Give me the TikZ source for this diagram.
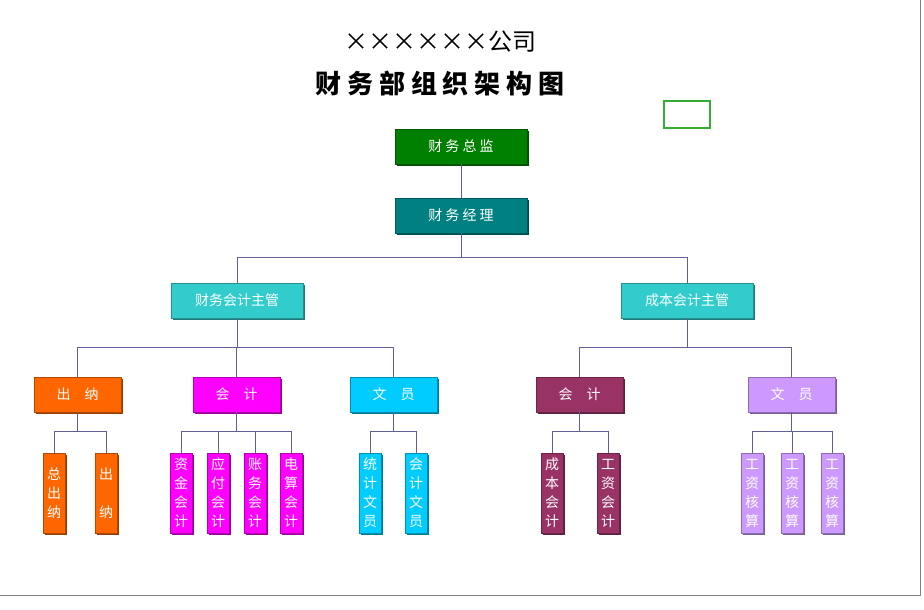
\documentclass[tikz,border=0pt]{standalone}
\usepackage{fontspec}
\setmainfont{Noto Sans CJK SC}
\usetikzlibrary{shadows}
\definecolor{cA}{RGB}{0,128,0}
\definecolor{cB}{RGB}{0,128,128}
\definecolor{cC}{RGB}{51,204,204}
\definecolor{cO}{RGB}{255,102,0}
\definecolor{cM}{RGB}{255,0,255}
\definecolor{cS}{RGB}{0,204,255}
\definecolor{cP}{RGB}{153,51,102}
\definecolor{cL}{RGB}{204,153,255}
\definecolor{ln}{RGB}{96,96,150}
\begin{document}
\begin{tikzpicture}[x=1pt,y=-1pt,
 box/.style={draw=#1!70!black,fill=#1,text=white,inner sep=0pt,
   drop shadow={shadow xshift=1.5pt,shadow yshift=-1.5pt,fill=#1!60!black,opacity=1},
   font=\fontsize{14}{14}\selectfont},
 big/.style={box=#1,minimum width=132pt,minimum height=35pt},
 mid/.style={box=#1,minimum width=87pt,minimum height=35pt},
 leaf/.style={box=#1,minimum width=22pt,minimum height=80pt,align=center,
   font=\fontsize{14}{19}\selectfont},
 con/.style={draw=ln,line width=0.8pt}]
\useasboundingbox (0,0) rectangle (924,610);
\draw[gray] (0,595) -- (920,595) -- (920,0);
\node (t1) at (440,42) {\fontsize{24}{24}\selectfont ××××××公司};
\node (t2) at (440,84) {\fontsize{26}{26}\selectfont\bfseries 财\ 务\ 部\ 组\ 织\ 架\ 构\ 图};
\node[draw=green!60!black!80,line width=1.5pt,minimum width=46pt,minimum height=27pt] (sel) at (687,114.5) {};
\node[big=cA] (zj) at (461,146.5) {财 务 总 监};
\node[big=cB] (jl) at (461,215.5) {财 务 经 理};
\node[big=cC] (cw) at (237,300.5) {财务会计主管};
\node[big=cC] (cb) at (687,300.5) {成本会计主管};
\node[mid=cO] (cn) at (77.5,394.5) {出\quad 纳};
\node[mid=cM] (kj) at (236.5,394.5) {会\quad 计};
\node[mid=cS] (wy) at (393.5,394.5) {文\quad 员};
\node[mid=cP] (kj2) at (579.5,394.5) {会\quad 计};
\node[mid=cL] (wy2) at (791.5,394.5) {文\quad 员};
\node[leaf=cO] (l1) at (54,493) {总\\出\\纳};
\node[leaf=cO] (l2) at (106,493) {出\\\\纳};
\node[leaf=cM] (l3) at (181,493) {资\\金\\会\\计};
\node[leaf=cM] (l4) at (218,493) {应\\付\\会\\计};
\node[leaf=cM] (l5) at (255,493) {账\\务\\会\\计};
\node[leaf=cM] (l6) at (291,493) {电\\算\\会\\计};
\node[leaf=cS] (l7) at (370,493) {统\\计\\文\\员};
\node[leaf=cS] (l8) at (416,493) {会\\计\\文\\员};
\node[leaf=cP] (l9) at (552,493) {成\\本\\会\\计};
\node[leaf=cP] (l10) at (608,493) {工\\资\\会\\计};
\node[leaf=cL] (l11) at (752,493) {工\\资\\核\\算};
\node[leaf=cL] (l12) at (792,493) {工\\资\\核\\算};
\node[leaf=cL] (l13) at (832,493) {工\\资\\核\\算};
\draw[con] (zj.south) -- (jl.north);
\foreach \p/\y/\cs in {jl/257/{cw,cb}, cw/347/{cn,kj,wy}, cb/347/{kj2,wy2},
  cn/431/{l1,l2}, kj/431/{l3,l4,l5,l6}, wy/431/{l7,l8}, kj2/431/{l9,l10}, wy2/431/{l11,l12,l13}}
  \foreach \c in \cs {\draw[con] (\p.south) -- (\p.south |- 0,\y) -| (\c.north);}
\end{tikzpicture}
\end{document}
